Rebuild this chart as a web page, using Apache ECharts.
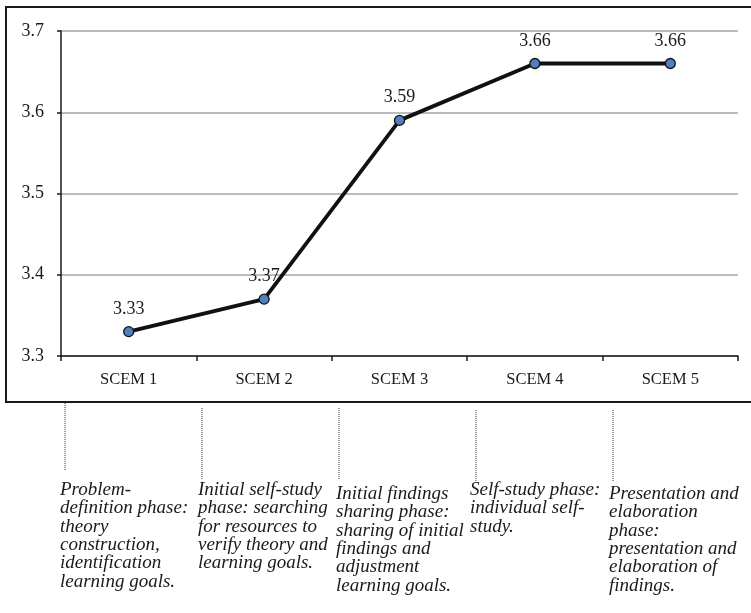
<!DOCTYPE html>
<html>
<head>
<meta charset="utf-8">
<script src="https://cdn.jsdelivr.net/npm/echarts@6/dist/echarts.min.js"></script>
<style>
  html, body { margin: 0; padding: 0; background: #fff; }
  #chart { width: 751px; height: 613px; }
</style>
</head>
<body>
<div id="chart"></div>
<script>
// Mean score per SCEM session
const categories = ['SCEM 1', 'SCEM 2', 'SCEM 3', 'SCEM 4', 'SCEM 5'];
const meanScores = [3.33, 3.37, 3.59, 3.66, 3.66];
const yTicks = [3.3, 3.4, 3.5, 3.6, 3.7];

// Phase description written under each session
const phaseNotes = [
  ['Problem-', 'definition phase:', 'theory', 'construction,', 'identification', 'learning goals.'],
  ['Initial self-study', 'phase: searching', 'for resources to', 'verify theory and', 'learning goals.'],
  ['Initial findings', 'sharing phase:', 'sharing of initial', 'findings and', 'adjustment', 'learning goals.'],
  ['Self-study phase:', 'individual self-', 'study.'],
  ['Presentation and', 'elaboration', 'phase:', 'presentation and', 'elaboration of', 'findings.']
];

// Placement of each note block and its dotted leader line
const noteLayout = [
  { textX: 60,  textY: 481, lineX: 65,  lineTop: 403, lineBottom: 471 },
  { textX: 198, textY: 481, lineX: 202, lineTop: 408, lineBottom: 480 },
  { textX: 336, textY: 485, lineX: 339, lineTop: 408, lineBottom: 480 },
  { textX: 470, textY: 481, lineX: 476, lineTop: 410, lineBottom: 482 },
  { textX: 609, textY: 485, lineX: 613, lineTop: 410, lineBottom: 482 }
];

const serif = '"Liberation Serif", "Times New Roman", serif';

const graphics = [
  {
    type: 'rect',
    shape: { x: 6, y: 7, width: 760, height: 395 },
    style: { fill: 'none', stroke: '#1a1a1a', lineWidth: 2 },
    silent: true,
    z: 0
  }
];

phaseNotes.forEach((lines, i) => {
  const l = noteLayout[i];
  graphics.push({
    type: 'line',
    shape: { x1: l.lineX, y1: l.lineTop, x2: l.lineX, y2: l.lineBottom },
    style: { stroke: '#333', lineWidth: 1, lineDash: [1, 1] },
    silent: true
  });
  graphics.push({
    type: 'text',
    x: l.textX,
    y: l.textY,
    style: {
      text: lines.join('\n'),
      font: 'italic 19px ' + serif,
      lineHeight: 18.3,
      fill: '#1a1a1a',
      align: 'left',
      verticalAlign: 'top'
    },
    silent: true
  });
});

const chart = echarts.init(document.getElementById('chart'), null, { renderer: 'canvas' });

chart.setOption({
  backgroundColor: '#fff',
  animation: false,
  grid: { left: 61, right: 13, top: 31, bottom: 257, containLabel: false },
  xAxis: {
    type: 'category',
    data: categories,
    boundaryGap: true,
    axisLine: { show: true, lineStyle: { color: '#1a1a1a', width: 1.5 } },
    axisTick: { show: true, interval: 0, length: 5, inside: false, lineStyle: { color: '#1a1a1a', width: 1.5 } },
    axisLabel: { interval: 0, margin: 15, color: '#1a1a1a', fontSize: 16.5, fontFamily: serif },
    splitLine: { show: false }
  },
  yAxis: {
    type: 'value',
    min: yTicks[0],
    max: yTicks[yTicks.length - 1],
    interval: 0.1,
    axisLine: { show: true, lineStyle: { color: '#1a1a1a', width: 1.5 } },
    axisTick: { show: true, length: 4, lineStyle: { color: '#1a1a1a', width: 1.5 } },
    axisLabel: {
      margin: 17,
      color: '#1a1a1a',
      fontSize: 18,
      fontFamily: serif,
      formatter: v => {
        const t = yTicks.find(k => Math.abs(k - v) < 1e-6);
        return t !== undefined ? t.toFixed(1) : '';
      }
    },
    splitLine: { show: true, lineStyle: { color: '#a6a6a6', width: 1.5 } }
  },
  series: [
    {
      type: 'line',
      data: meanScores,
      symbol: 'circle',
      symbolSize: 10,
      lineStyle: { color: '#111', width: 3.8 },
      itemStyle: { color: '#4F81BD', borderColor: '#111', borderWidth: 1.3 },
      label: {
        show: true,
        position: 'top',
        distance: 8,
        color: '#1a1a1a',
        fontSize: 18,
        fontFamily: serif,
        formatter: p => p.value.toFixed(2)
      },
      z: 5
    }
  ],
  graphic: graphics
});
</script>
</body>
</html>
